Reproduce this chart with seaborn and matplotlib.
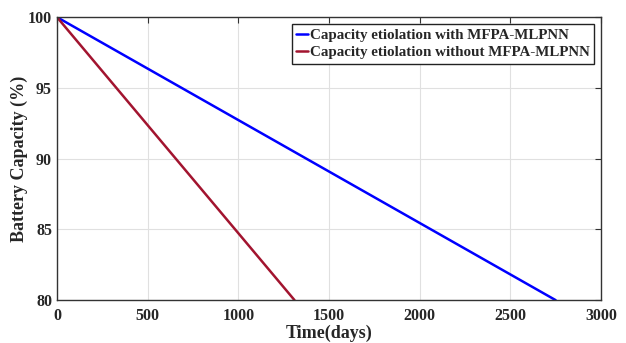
import matplotlib
matplotlib.use("Agg")
import matplotlib.pyplot as plt
import seaborn as sns
import pandas as pd

# data
days_with = [0, 2750]
capacity_with = [100, 80]
days_without = [0, 1310]
capacity_without = [100, 80]
labels = ["Capacity etiolation with MFPA-MLPNN", "Capacity etiolation without MFPA-MLPNN"]
colors = ["#0000FF", "#A2142F"]

df = pd.concat([
    pd.DataFrame({"days": days_with, "cap": capacity_with, "series": labels[0]}),
    pd.DataFrame({"days": days_without, "cap": capacity_without, "series": labels[1]}),
])

sns.set_style("white")
plt.rcParams["font.family"] = ["Liberation Serif", "DejaVu Serif"]
plt.rcParams["font.weight"] = "bold"

fig = plt.figure(figsize=(6.26, 3.43), dpi=100)
ax = fig.add_axes([0.091, 0.125, 0.869, 0.825])

sns.lineplot(data=df, x="days", y="cap", hue="series", palette=colors,
             linewidth=1.8, ax=ax, legend=True)

ax.set_xlim(0, 3000)
ax.set_ylim(80, 100)
ax.set_xticks(range(0, 3001, 500))
ax.set_yticks(range(80, 101, 5))
ax.grid(True, color="#e0e0e0", linewidth=0.8)
ax.tick_params(direction="in", top=True, right=True, length=4,
               labelsize=11.5, color="#333333")
ax.tick_params(axis="x", pad=6)
for lab in ax.get_xticklabels() + ax.get_yticklabels():
    lab.set_fontweight("bold")
for sp in ax.spines.values():
    sp.set_color("#333333")
    sp.set_linewidth(1.0)

ax.set_xlabel("Time(days)", fontsize=13, fontweight="bold", labelpad=0)
ax.set_ylabel("Battery Capacity (%)", fontsize=13, fontweight="bold", labelpad=0)

leg = ax.legend(loc="upper right", handlelength=0.8,
                handletextpad=0.1, borderpad=0.3, labelspacing=0.25,
                borderaxespad=0.45, fancybox=False, framealpha=1,
                edgecolor="#222222", prop={"weight": "bold", "size": 10.8})
leg.get_frame().set_linewidth(1.0)

fig.savefig("out.png", dpi=100)
